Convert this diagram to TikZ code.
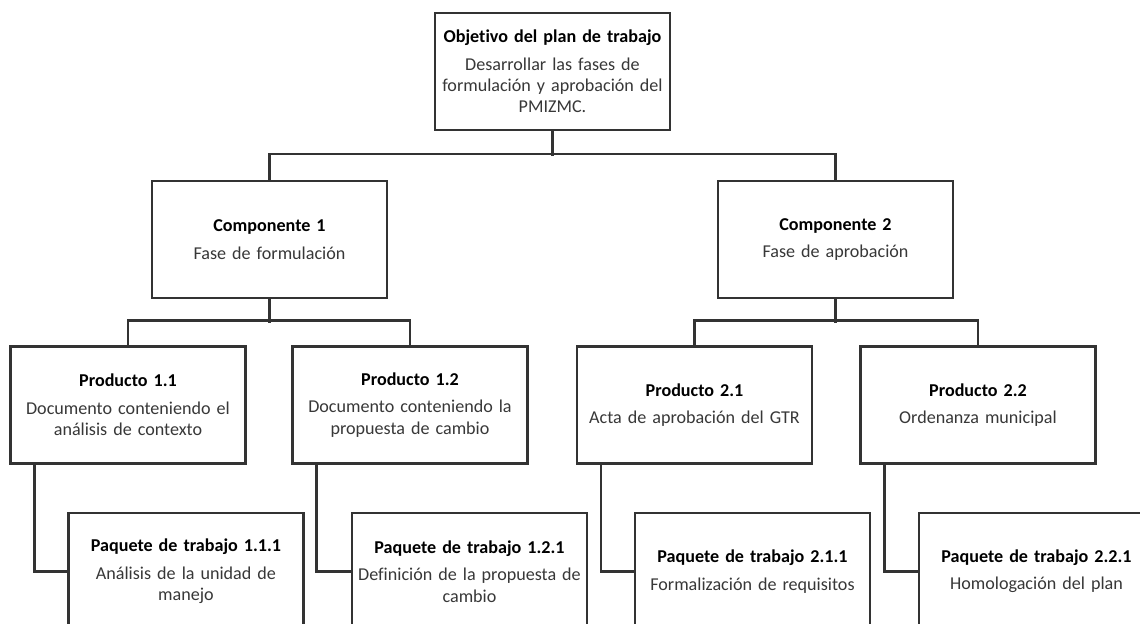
\documentclass[tikz,border=0pt]{standalone}
\usepackage{fontspec}
\setmainfont{Carlito}[Ligatures=NoCommon]
\tikzset{
  box/.style={draw=black!80, line width=1.4pt, fill=white, minimum width=4.7cm, minimum height=2.34cm,
    text width=4.7cm, align=center, inner sep=0pt, font=\fontsize{10.3}{12.1}\selectfont},
  link/.style={draw=black!80, line width=1.4pt}
}
\newcommand{\boxtext}[2]{\textbf{#1}\\[3.5pt]\color{black!78}#2}

\begin{document}
\begin{tikzpicture}[x=0.02cm, y=-0.02cm]
    \useasboundingbox (0,0) rectangle (1140,624);
    \clip (0,0) rectangle (1140,624);
    % objetivo
    \node[box] (obj) at (552.5,71.5) {\boxtext{Objetivo del plan de trabajo}{Desarrollar las fases de\\formulación y aprobación del\\PMIZMC.}};
    % componentes
    \node[box] (c1) at (269.5,239.5) {\boxtext{Componente 1}{Fase de formulación}};
    \node[box] (c2) at (835.5,239.5) {\boxtext{Componente 2}{Fase de aprobación}};
    % productos
    \node[box] (p11) at (128,405) {\boxtext{Producto 1.1}{Documento conteniendo el\\análisis de contexto}};
    \node[box] (p12) at (410,405) {\boxtext{Producto 1.2}{Documento conteniendo la\\propuesta de cambio}};
    \node[box] (p21) at (694.5,405) {\boxtext{Producto 2.1}{Acta de aprobación del GTR}};
    \node[box] (p22) at (978,405) {\boxtext{Producto 2.2}{Ordenanza municipal}};
    % paquetes de trabajo
    \node[box] (k11) at (186,571.5) {\boxtext{Paquete de trabajo 1.1.1}{Análisis de la unidad de\\manejo}};
    \node[box] (k12) at (469.5,571.5) {\boxtext{Paquete de trabajo 1.2.1}{Definición de la propuesta de\\cambio}};
    \node[box] (k21) at (752.5,571.5) {\boxtext{Paquete de trabajo 2.1.1}{Formalización de requisitos}};
    \node[box] (k22) at (1036.5,571.5) {\boxtext{Paquete de trabajo 2.2.1}{Homologación del plan}};

    \draw[link] (obj.south) -- ++(0,25);
    \draw[link] (c1.north) -- ++(0,-26) -| (c2.north);
    \draw[link] (c1.south) -- ++(0,24);
    \draw[link] (p11.north) -- ++(0,-25) -| (p12.north);
    \draw[link] (c2.south) -- ++(0,24);
    \draw[link] (p21.north) -- ++(0,-25) -| (p22.north);
    \foreach \p/\k in {p11/k11, p12/k12, p21/k21, p22/k22}
        \draw[link] ([xshift=0.5cm]\p.south west) |- (\k.west);
\end{tikzpicture}
\end{document}
